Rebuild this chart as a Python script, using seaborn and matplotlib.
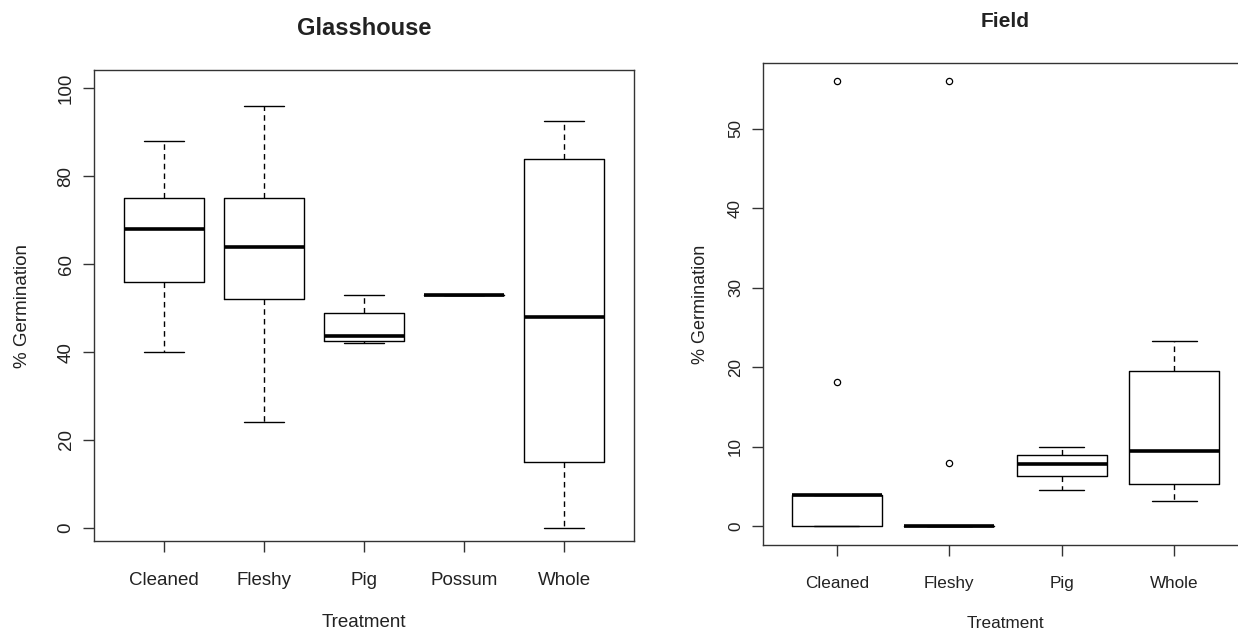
import numpy as np
import pandas as pd
import matplotlib
matplotlib.use("Agg")
import matplotlib.pyplot as plt
import seaborn as sns

# ---- data (raw values chosen so the box statistics match the picture) ----
glass_order = ["Cleaned", "Fleshy", "Pig", "Possum", "Whole"]
glass_cleaned = [40, 56, 68, 75, 88]
glass_fleshy = [24, 52, 64, 75, 96]
glass_pig = [42, 42.5, 43.7, 48.8, 53]
glass_possum = [53]
glass_whole = [0, 15, 48, 84, 92.5]

field_order = ["Cleaned", "Fleshy", "Pig", "Whole"]
field_cleaned = [0, 0, 0, 4, 4, 4, 4, 18.2, 56]
field_fleshy = [0, 0, 0, 0, 0, 0, 0, 8, 56]
field_pig = [4.6, 6.3, 7.9, 9.0, 10]
field_whole = [3.2, 5.3, 9.5, 19.6, 23.3]

glass_yticks = [0, 20, 40, 60, 80, 100]
field_yticks = [0, 10, 20, 30, 40, 50]


def long_df(order, groups):
    rows = []
    for name, vals in zip(order, groups):
        for v in vals:
            rows.append({"Treatment": name, "value": v})
    return pd.DataFrame(rows)


glass_df = long_df(glass_order, [glass_cleaned, glass_fleshy, glass_pig,
                                 glass_possum, glass_whole])
field_df = long_df(field_order, [field_cleaned, field_fleshy, field_pig,
                                 field_whole])

sns.set_style("white")
plt.rcParams["font.family"] = ["Liberation Sans", "DejaVu Sans"]

W, H = 1238, 633
fig = plt.figure(figsize=(W / 100, H / 100), dpi=100)

txt = "#222222"
frame = "#333333"


def panel(rect, df, order, yticks, ylim, title, tfs, lfs, ylfs, tpad,
          ylpad, titlepad):
    l, t, r, b = rect
    ax = fig.add_axes([l / W, (H - b) / H, (r - l) / W, (b - t) / H])
    sns.boxplot(data=df, x="Treatment", y="value", order=order, ax=ax,
                width=0.8, fill=False, color="black", linecolor="black",
                linewidth=1.0, whis=1.5, capwidths=0.4,
                medianprops=dict(linewidth=2.6, solid_capstyle="butt"),
                whiskerprops=dict(linestyle=(0, (4, 3))),
                flierprops=dict(marker="o", markersize=4.5,
                                markerfacecolor="none",
                                markeredgecolor="black",
                                markeredgewidth=0.9))
    n = len(order)
    ax.set_xlim(-0.5 - 0.04 * n, n - 0.5 + 0.04 * n)
    ax.set_ylim(*ylim)
    ax.set_yticks(yticks)
    ax.set_yticklabels([str(v) for v in yticks])
    for sp in ax.spines.values():
        sp.set_visible(True)
        sp.set_color(frame)
        sp.set_linewidth(1.0)
    ax.tick_params(axis="both", which="both", length=8, width=1.0,
                   color=frame, labelcolor=txt, direction="out",
                   bottom=True, left=True, top=False, right=False)
    ax.tick_params(axis="x", labelsize=lfs, pad=tpad)
    ax.tick_params(axis="y", labelsize=lfs, pad=6, labelrotation=90)
    for lab in ax.get_yticklabels():
        lab.set_va("center")
        lab.set_ha("right")
    ax.set_xlabel("Treatment", fontsize=lfs, color=txt, labelpad=18)
    ax.set_ylabel("% Germination", fontsize=ylfs, color=txt, labelpad=ylpad)
    ax.set_title(title, fontsize=tfs, fontweight="bold", color=txt,
                 pad=titlepad)
    ax.grid(False)
    return ax


panel((94, 70, 634, 541), glass_df, glass_order, glass_yticks,
      (-3.0, 104.2), "Glasshouse", 17, 13.5, 13.5, 14, 19, 25)
panel((762.5, 63, 1248.5, 545), field_df, field_order, field_yticks,
      (-2.35, 58.3), "Field", 15, 12.3, 13.0, 14, 14, 26)

fig.savefig("out.png", dpi=100, facecolor="white")
